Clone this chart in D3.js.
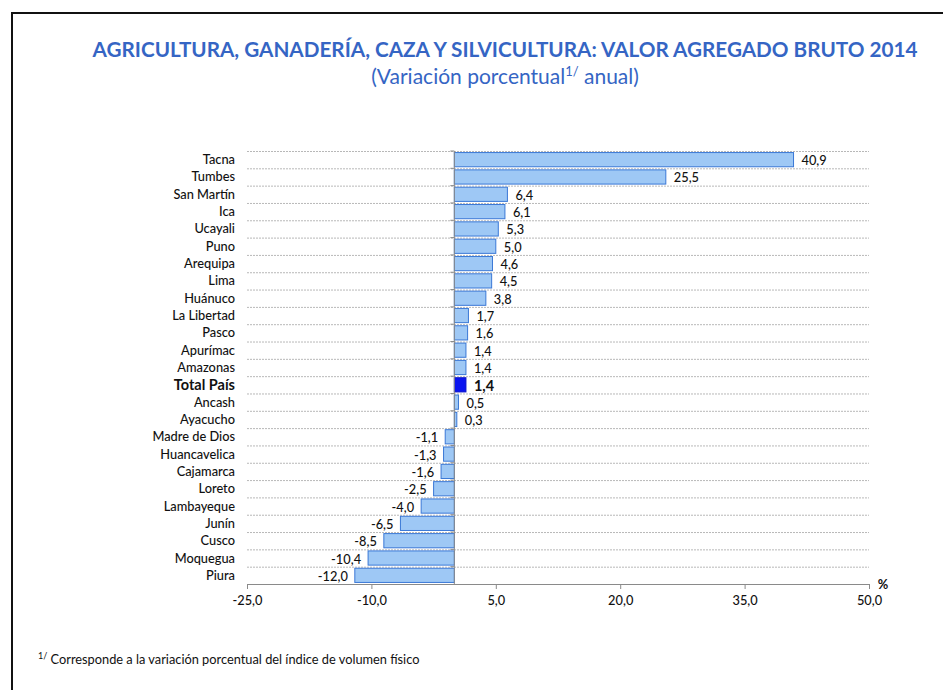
<!DOCTYPE html>
<html>
<head>
<meta charset="utf-8">
<script src="https://cdn.jsdelivr.net/npm/d3@7"></script>
<style>
  body { margin: 0; background: #fff; }
  svg { display: block; font-family: Lato, "Open Sans", sans-serif; }
</style>
</head>
<body>
<div class="canvas"></div>
<script>
const regions = ["Tacna", "Tumbes", "San Martín", "Ica", "Ucayali", "Puno", "Arequipa", "Lima",
    "Huánuco", "La Libertad", "Pasco", "Apurímac", "Amazonas", "Total País", "Ancash", "Ayacucho",
    "Madre de Dios", "Huancavelica", "Cajamarca", "Loreto", "Lambayeque", "Junín", "Cusco",
    "Moquegua", "Piura"]
const values = [40.9, 25.5, 6.4, 6.1, 5.3, 5.0, 4.6, 4.5, 3.8, 1.7, 1.6, 1.4, 1.4, 1.4, 0.5, 0.3,
    -1.1, -1.3, -1.6, -2.5, -4.0, -6.5, -8.5, -10.4, -12.0]
const xTicks = [-25, -10, 5, 20, 35, 50]

const width = 943
const height = 690
const data = regions.map((r, i) => ({region: r, value: values[i]}))
const fmt = v => d3.format(".1f")(v).replace(".", ",").replace("\u2212", "-")

const svg = d3.select(".canvas")
    .append("svg")
    .attr("width", width)
    .attr("height", height)

// page frame
svg.append("rect")
    .attr("x", 12).attr("y", 13)
    .attr("width", 960).attr("height", 700)
    .attr("fill", "none")
    .attr("stroke", "#111")
    .attr("stroke-width", 2)

svg.append("text")
    .attr("x", 505).attr("y", 57)
    .attr("text-anchor", "middle")
    .attr("fill", "#3565c4")
    .attr("font-weight", "bold")
    .attr("font-size", 20.7)
    .text("AGRICULTURA, GANADERÍA, CAZA Y SILVICULTURA: VALOR AGREGADO BRUTO 2014")

const sub = svg.append("text")
    .attr("x", 505).attr("y", 84)
    .attr("text-anchor", "middle")
    .attr("fill", "#3565c4")
    .attr("font-size", 21)
sub.append("tspan").text("(Variación porcentual")
sub.append("tspan").attr("dy", -8).attr("font-size", 13).text("1/")
sub.append("tspan").attr("dy", 8).text(" anual)")

const x = d3.scaleLinear().domain([-25, 50]).range([247, 869])
const y = d3.scaleBand().domain(regions).range([151, 584]).paddingInner(0.18).paddingOuter(0.09)
const step = y.step()

// dashed grid lines between rows
svg.append("g")
    .selectAll("line")
    .data(regions)
    .enter()
    .append("line")
    .attr("x1", x(-25)).attr("x2", x(50))
    .attr("y1", (d, i) => 151 + i * step + 0.5)
    .attr("y2", (d, i) => 151 + i * step + 0.5)
    .attr("stroke", "#b8b8b8")
    .attr("stroke-dasharray", "2,1")

// bars
svg.append("g")
    .selectAll("rect")
    .data(data)
    .enter()
    .append("rect")
    .attr("x", d => x(Math.min(0, d.value)))
    .attr("y", d => y(d.region))
    .attr("width", d => Math.abs(x(d.value) - x(0)))
    .attr("height", y.bandwidth())
    .attr("fill", d => d.region === "Total País" ? "#0a14f0" : "#9ec8f5")
    .attr("stroke", d => d.region === "Total País" ? "#0a14c8" : "#3a78d6")
    .attr("stroke-width", 1)

// zero axis with ticks
svg.append("line")
    .attr("x1", x(0)).attr("x2", x(0))
    .attr("y1", 151).attr("y2", 584)
    .attr("stroke", "#8a8a8a")
svg.append("g")
    .selectAll("line")
    .data(regions)
    .enter()
    .append("line")
    .attr("x1", x(0) - 4).attr("x2", x(0))
    .attr("y1", (d, i) => 151 + i * step)
    .attr("y2", (d, i) => 151 + i * step)
    .attr("stroke", "#8a8a8a")

// category labels
svg.append("g")
    .selectAll("text")
    .data(data)
    .enter()
    .append("text")
    .attr("x", 235)
    .attr("y", d => y(d.region) + y.bandwidth() / 2)
    .attr("dy", "0.35em")
    .attr("text-anchor", "end")
    .attr("fill", "#111")
    .attr("font-size", d => d.region === "Total País" ? 14.5 : 12.8)
    .attr("font-weight", d => d.region === "Total País" ? "bold" : 500)
    .text(d => d.region)

// value labels
svg.append("g")
    .selectAll("text")
    .data(data)
    .enter()
    .append("text")
    .attr("x", d => d.value >= 0 ? x(d.value) + 8 : x(d.value) - 7)
    .attr("y", d => y(d.region) + y.bandwidth() / 2 + 1)
    .attr("dy", "0.35em")
    .attr("text-anchor", d => d.value >= 0 ? "start" : "end")
    .attr("fill", "#111")
    .attr("font-size", d => d.region === "Total País" ? 14.5 : 12.8)
    .attr("font-weight", d => d.region === "Total País" ? "bold" : 500)
    .text(d => fmt(d.value))

// bottom axis
const axis = svg.append("g")
    .attr("transform", "translate(0,584)")
    .call(d3.axisBottom(x).tickValues(xTicks).tickSize(5).tickSizeOuter(0).tickFormat(fmt))
axis.select(".domain").attr("stroke", "#8a8a8a")
axis.selectAll(".tick line").attr("stroke", "#8a8a8a")
axis.selectAll(".tick text")
    .attr("fill", "#111")
    .attr("font-size", 12.8)
    .attr("font-weight", 500)
    .attr("font-family", "Lato, 'Open Sans', sans-serif")
    .attr("dy", "1.05em")

svg.append("text")
    .attr("x", 883).attr("y", 589)
    .attr("text-anchor", "middle")
    .attr("fill", "#111")
    .attr("font-size", 12.8)
    .attr("font-weight", "bold")
    .text("%")

const foot = svg.append("text")
    .attr("x", 38).attr("y", 664)
    .attr("fill", "#111")
    .attr("font-size", 12.8)
foot.append("tspan").attr("dy", -5).attr("font-size", 9).text("1/")
foot.append("tspan").attr("dy", 5).text(" Corresponde a la variación porcentual del índice de volumen físico")
</script>
</body>
</html>
